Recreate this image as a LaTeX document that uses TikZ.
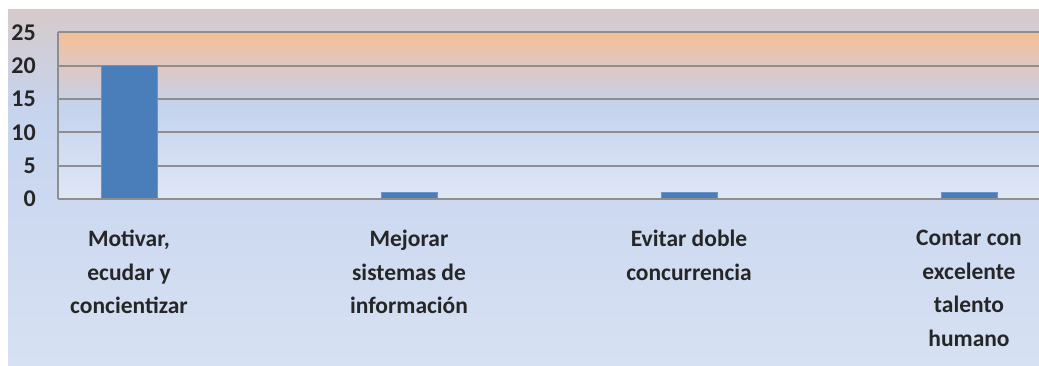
\documentclass[tikz,border=0pt]{standalone}
\usepackage{fontspec}
\setmainfont{Carlito}
\definecolor{outerTop}{HTML}{D6CACB}
\definecolor{outerMid}{HTML}{C6D4EE}
\definecolor{outerBot}{HTML}{D7E1F3}
\definecolor{plotA}{HTML}{F5C096}
\definecolor{plotB}{HTML}{DEC7C1}
\definecolor{plotC}{HTML}{C4D3EE}
\definecolor{plotD}{HTML}{E0E7F5}
\definecolor{gridc}{HTML}{8E8E8E}
\definecolor{barfill}{HTML}{4A7EBB}
\definecolor{baredge}{HTML}{6A95CC}
\tikzset{
  grid line/.style={draw=gridc, line width=1.9pt},
  barbox/.style={fill=barfill, draw=baredge, line width=0.8pt, minimum width=56pt, inner sep=0pt, anchor=south},
  ticklab/.style={font=\fontsize{24}{28}\selectfont\bfseries, anchor=east, inner sep=0pt, text=black!85},
  catlab/.style={font=\fontsize{23.5}{33.5}\selectfont\bfseries, align=center, anchor=north, inner sep=0pt, text=black!85}
}
\begin{document}
\begin{tikzpicture}[x=1pt,y=-1pt]
\useasboundingbox (0,0) rectangle (1039,366);
\fill[white] (0,0) rectangle (1039,366);
% outer chart area
\shade[top color=outerTop, bottom color=outerMid] (8,10) rectangle (1039,110.5);
\shade[top color=outerMid, bottom color=outerBot] (8,110) rectangle (1039,366);
% plot area
\shade[top color=plotA, bottom color=plotB] (58,32.3) rectangle (1039,65.7);
\shade[top color=plotB, bottom color=plotC] (58,65.5) rectangle (1039,108);
\shade[top color=plotC, bottom color=plotD] (58,107.8) rectangle (1039,199);
% grid lines
\foreach \v in {5,10,15,20,25} {
  \draw[grid line] (58,{199-\v*6.667}) -- (1039,{199-\v*6.667});
}
\draw[grid line] (58,32.3) -- (58,199);
% bars
\node[barbox, minimum height=133.3pt] (b1) at (129,199) {};
\node[barbox, minimum height=6.67pt] (b2) at (409,199) {};
\node[barbox, minimum height=6.67pt] (b3) at (689,199) {};
\node[barbox, minimum height=6.67pt] (b4) at (969,199) {};
% axis
\draw[grid line] (58,199) -- (1039,199);
% tick labels
\node[ticklab] (t0) at (36,199) {0};
\node[ticklab] (t5) at (36,165.7) {5};
\node[ticklab] (t10) at (36,132.3) {10};
\node[ticklab] (t15) at (36,99) {15};
\node[ticklab] (t20) at (36,65.7) {20};
\node[ticklab] (t25) at (36,32.3) {25};
% category labels
\node[catlab] (c1) at (129,230) {Motivar,\\ecudar y\\concientizar};
\node[catlab] (c2) at (409,230) {Mejorar\\sistemas de\\información};
\node[catlab] (c3) at (689,230) {Evitar doble\\concurrencia};
\node[catlab] (c4) at (969,230) {Contar con\\excelente\\talento\\humano};
\end{tikzpicture}
\end{document}
